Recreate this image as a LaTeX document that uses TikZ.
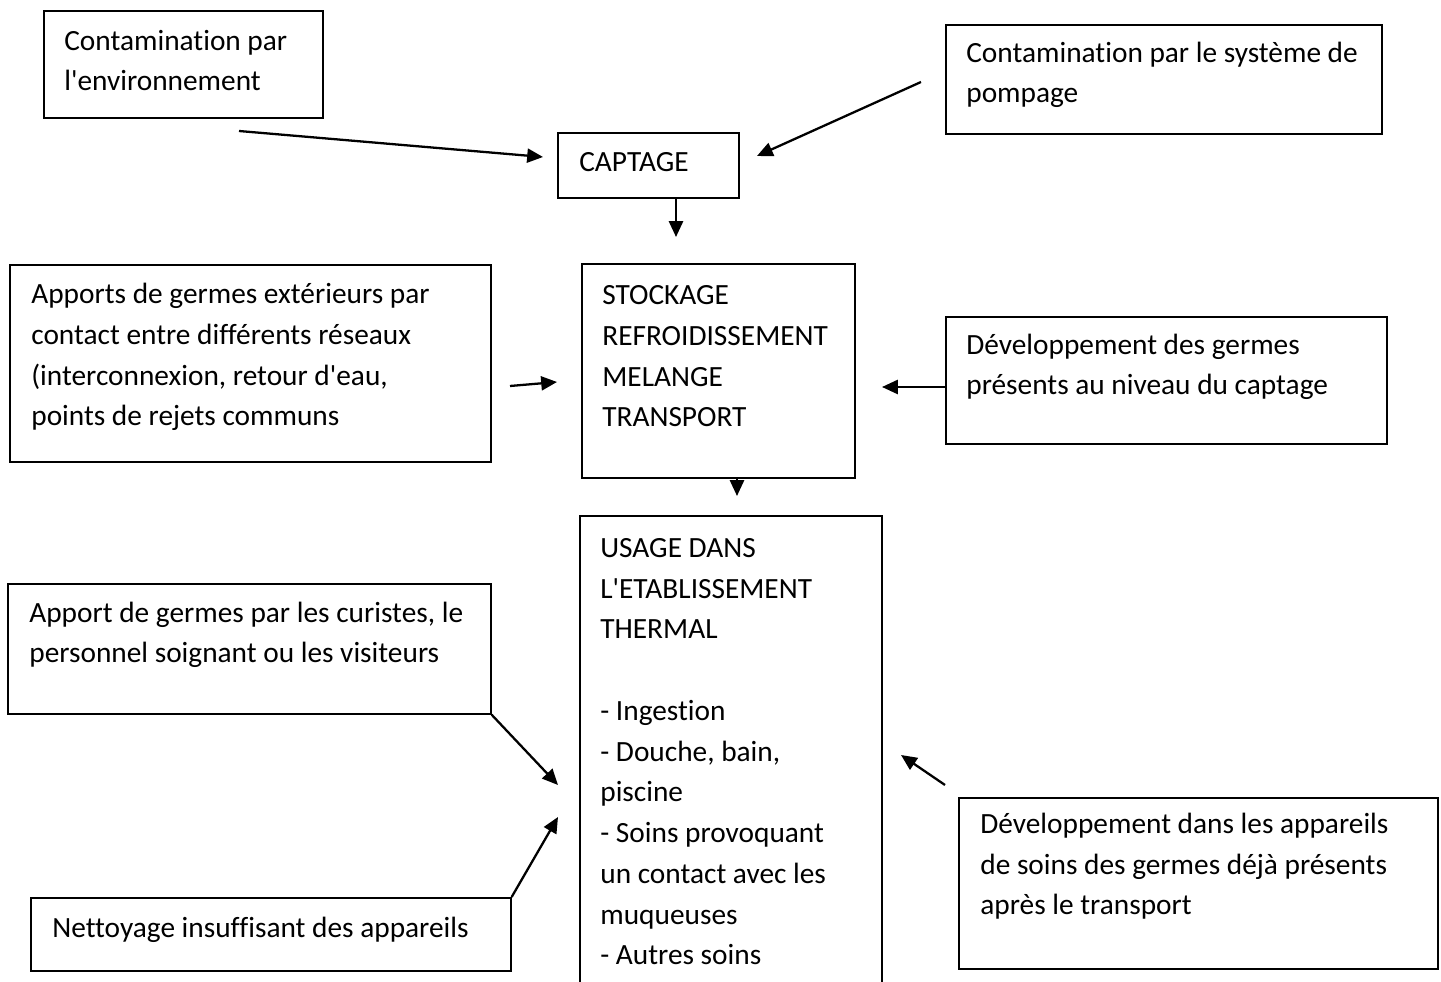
\documentclass[tikz,border=0pt]{standalone}
\usepackage{fontspec}
\setmainfont{Carlito}[Ligatures=NoCommon]
\usetikzlibrary{arrows.meta}
\begin{document}
\begin{tikzpicture}[x=0.02cm,y=-0.02cm,
	box/.style={draw,line width=1pt,anchor=north west,inner sep=0pt},
	txt/.style={anchor=base west,inner sep=0pt,align=left,font=\fontsize{16.7pt}{23.2pt}\selectfont},
	flow/.style={line width=1.3pt,-{Triangle[length=9pt,width=8pt]}}]
	\useasboundingbox (0,0) rectangle (1441,982);
	\clip (0,0) rectangle (1441,982);

	\node[box,minimum width=5.58cm,minimum height=2.14cm] (envbox) at (43,10) {};
	\node[txt] (envtxt) at (64,91) {Contamination par\\l\textquotesingle environnement};

	\node[box,minimum width=3.62cm,minimum height=1.30cm] (captage) at (557,132) {};
	\node[txt] (captagetxt) at (579,172) {CAPTAGE};

	\node[box,minimum width=8.72cm,minimum height=2.18cm] (pompage) at (945,24) {};
	\node[txt] (pompagetxt) at (966,103) {Contamination par le système de\\pompage};

	\node[box,minimum width=9.62cm,minimum height=3.94cm] (apports) at (9,264) {};
	\node[txt] (apportstxt) at (31,426) {Apports de germes extérieurs par\\contact entre différents réseaux\\(interconnexion, retour d\textquotesingle eau,\\points de rejets communs};

	\node[box,minimum width=5.46cm,minimum height=4.28cm] (stockage) at (581,263) {};
	\node[txt] (stockagetxt) at (602,427) {STOCKAGE\\REFROIDISSEMENT\\MELANGE\\TRANSPORT};

	\node[box,minimum width=8.82cm,minimum height=2.54cm] (devgermes) at (945,316) {};
	\node[txt] (devgermestxt) at (966,395) {Développement des germes\\présents au niveau du captage};

	\node[box,minimum width=6.04cm,minimum height=9.70cm] (usage) at (579,515) {};
	\node[txt] (usagetxt) at (600,965) {USAGE DANS\\L\textquotesingle ETABLISSEMENT\\THERMAL\\~\\- Ingestion\\- Douche, bain,\\piscine\\- Soins provoquant\\un contact avec les\\muqueuses\\- Autres soins};

	\node[box,minimum width=9.66cm,minimum height=2.60cm] (curistes) at (7,583) {};
	\node[txt] (curistestxt) at (29,663) {Apport de germes par les curistes, le\\personnel soignant ou les visiteurs};

	\node[box,minimum width=9.60cm,minimum height=1.46cm] (nettoyage) at (30,897) {};
	\node[txt] (nettoyagetxt) at (52,937) {Nettoyage insuffisant des appareils};

	\node[box,minimum width=9.58cm,minimum height=3.42cm] (devapp) at (958,797) {};
	\node[txt] (devapptxt) at (980,915) {Développement dans les appareils\\de soins des germes déjà présents\\après le transport};

	\coordinate (envtail) at (239,131);
	\coordinate (envhead) at (543,157);
	\coordinate (pomptail) at (921,82);
	\coordinate (pomphead) at (757,156);
	\coordinate (capthead) at (676,237);
	\coordinate (apptail) at (510,386);
	\coordinate (apphead) at (557,382);
	\coordinate (devhead) at (882,387);
	\coordinate (stockhead) at (737,496);
	\coordinate (curhead) at (558,785);
	\coordinate (netthead) at (558,817);
	\coordinate (devapptail) at (945,785);
	\coordinate (devapphead) at (901,755);

	\draw[flow] (envtail) -- (envhead);
	\draw[flow] (pomptail) -- (pomphead);
	\draw[flow] (captage.south -| capthead) -- (capthead);
	\draw[flow] (apptail) -- (apphead);
	\draw[flow] (devgermes.west |- devhead) -- (devhead);
	\draw[flow] (stockage.south -| stockhead) -- (stockhead);
	\draw[flow] (curistes.south east) -- (curhead);
	\draw[flow] (nettoyage.north east) -- (netthead);
	\draw[flow] (devapptail) -- (devapphead);
\end{tikzpicture}
\end{document}
